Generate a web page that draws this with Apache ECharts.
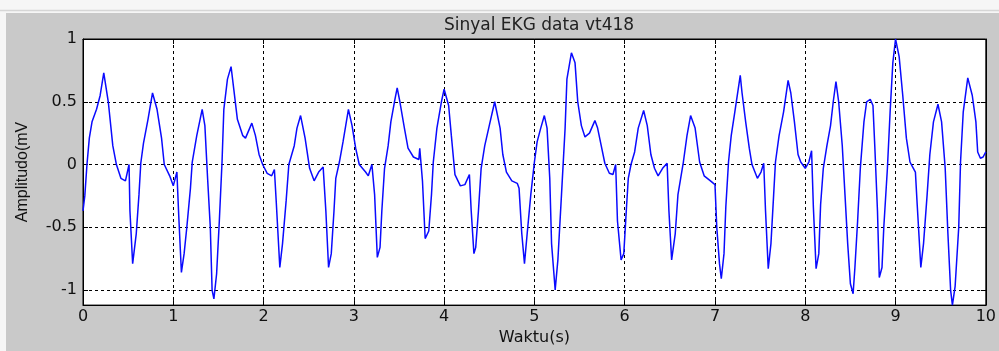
<!DOCTYPE html>
<html>
<head>
<meta charset="utf-8">
<title>Sinyal EKG data vt418</title>
<script src="https://cdn.jsdelivr.net/npm/echarts@6.0.0/dist/echarts.min.js"></script>
<style>
  html, body { margin: 0; padding: 0; background: #fff; }
  #chart { width: 999px; height: 351px; }
</style>
</head>
<body>
<div id="chart"></div>
<script>
// waktu (s)
var waktu = [
  0.00, 0.02, 0.044, 0.07, 0.10, 0.15, 0.19, 0.23, 0.28, 0.33, 0.37, 0.42, 0.47, 0.51, 0.52, 0.55, 0.59, 0.62, 0.64, 0.67,
  0.72, 0.77, 0.82, 0.87, 0.90, 0.96, 1.00, 1.04, 1.06, 1.09, 1.12, 1.15, 1.19, 1.21, 1.26, 1.32, 1.35, 1.38, 1.41, 1.43,
  1.45, 1.48, 1.51, 1.54, 1.56, 1.60, 1.64, 1.67, 1.71, 1.77, 1.80, 1.87, 1.91, 1.95, 1.99, 2.04, 2.09, 2.12, 2.14, 2.18,
  2.21, 2.25, 2.28, 2.34, 2.37, 2.41, 2.46, 2.51, 2.56, 2.61, 2.66, 2.69, 2.72, 2.75, 2.78, 2.80, 2.84, 2.88, 2.91, 2.94,
  2.98, 3.02, 3.06, 3.13, 3.16, 3.20, 3.23, 3.26, 3.29, 3.31, 3.34, 3.38, 3.41, 3.45, 3.48, 3.51, 3.56, 3.60, 3.66, 3.72,
  3.73, 3.76, 3.79, 3.83, 3.86, 3.88, 3.92, 3.97, 4.00, 4.05, 4.08, 4.12, 4.18, 4.23, 4.28, 4.30, 4.33, 4.35, 4.38, 4.41,
  4.45, 4.50, 4.56, 4.62, 4.65, 4.69, 4.75, 4.81, 4.83, 4.86, 4.89, 4.92, 4.96, 5.00, 5.03, 5.07, 5.11, 5.14, 5.17, 5.19,
  5.23, 5.26, 5.30, 5.34, 5.36, 5.41, 5.45, 5.48, 5.52, 5.56, 5.61, 5.67, 5.70, 5.74, 5.78, 5.83, 5.87, 5.90, 5.92, 5.96,
  5.99, 6.02, 6.04, 6.07, 6.11, 6.15, 6.21, 6.25, 6.29, 6.33, 6.37, 6.42, 6.47, 6.49, 6.52, 6.56, 6.59, 6.62, 6.65, 6.69,
  6.73, 6.78, 6.83, 6.88, 6.95, 7.00, 7.02, 7.05, 7.07, 7.10, 7.12, 7.15, 7.18, 7.22, 7.28, 7.30, 7.34, 7.38, 7.41, 7.47,
  7.51, 7.54, 7.56, 7.59, 7.62, 7.65, 7.67, 7.71, 7.76, 7.81, 7.84, 7.88, 7.92, 7.95, 8.00, 8.04, 8.07, 8.09, 8.12, 8.15,
  8.17, 8.20, 8.24, 8.28, 8.31, 8.34, 8.37, 8.41, 8.44, 8.47, 8.50, 8.53, 8.55, 8.58, 8.61, 8.65, 8.68, 8.72, 8.75, 8.77,
  8.80, 8.82, 8.85, 8.87, 8.91, 8.94, 8.97, 9.00, 9.04, 9.08, 9.12, 9.16, 9.19, 9.22, 9.24, 9.28, 9.31, 9.35, 9.38, 9.42,
  9.47, 9.51, 9.55, 9.58, 9.61, 9.63, 9.66, 9.70, 9.72, 9.75, 9.80, 9.85, 9.89, 9.91, 9.94, 9.97, 10.00
]
// amplitudo (mV)
var amplitudo = [
  -0.37, -0.25, 0.00, 0.21, 0.34, 0.44, 0.55, 0.73, 0.50, 0.15, 0.00, -0.11, -0.13, 0.00, -0.37, -0.79, -0.55, -0.24, 0.01, 0.17,
  0.36, 0.57, 0.44, 0.21, 0.00, -0.09, -0.17, -0.06, -0.40, -0.86, -0.71, -0.50, -0.19, 0.02, 0.23, 0.44, 0.31, -0.11, -0.50, -1.00,
  -1.07, -0.87, -0.45, 0.02, 0.44, 0.68, 0.78, 0.60, 0.36, 0.23, 0.21, 0.33, 0.23, 0.08, 0.00, -0.07, -0.09, -0.04, -0.29, -0.82,
  -0.63, -0.29, 0.00, 0.15, 0.29, 0.39, 0.21, -0.03, -0.13, -0.06, -0.02, -0.37, -0.82, -0.71, -0.37, -0.11, 0.02, 0.18, 0.31, 0.44,
  0.31, 0.13, 0.00, -0.06, -0.09, 0.00, -0.24, -0.74, -0.66, -0.37, -0.03, 0.15, 0.34, 0.50, 0.61, 0.50, 0.29, 0.13, 0.06, 0.04,
  0.13, -0.13, -0.59, -0.53, -0.24, 0.02, 0.29, 0.50, 0.60, 0.47, 0.23, -0.08, -0.17, -0.16, -0.08, -0.37, -0.71, -0.66, -0.37, -0.03,
  0.15, 0.31, 0.50, 0.29, 0.08, -0.06, -0.13, -0.15, -0.19, -0.55, -0.79, -0.55, -0.24, 0.02, 0.18, 0.29, 0.39, 0.29, -0.11, -0.63,
  -1.00, -0.76, -0.24, 0.29, 0.68, 0.89, 0.81, 0.50, 0.31, 0.22, 0.25, 0.35, 0.29, 0.15, 0.01, -0.07, -0.08, 0.00, -0.45, -0.76,
  -0.71, -0.34, -0.11, 0.00, 0.10, 0.29, 0.43, 0.31, 0.08, -0.03, -0.09, -0.03, 0.01, -0.37, -0.76, -0.55, -0.24, -0.11, 0.02, 0.23,
  0.39, 0.29, 0.02, -0.09, -0.13, -0.16, -0.50, -0.79, -0.91, -0.71, -0.34, 0.02, 0.23, 0.42, 0.71, 0.57, 0.34, 0.13, 0.00, -0.11,
  -0.06, 0.01, -0.37, -0.83, -0.63, -0.24, 0.02, 0.23, 0.42, 0.67, 0.57, 0.34, 0.08, 0.02, -0.03, 0.02, 0.11, -0.34, -0.83, -0.71,
  -0.32, -0.03, 0.15, 0.31, 0.50, 0.66, 0.50, 0.15, -0.24, -0.63, -0.95, -1.03, -0.82, -0.45, -0.03, 0.34, 0.50, 0.52, 0.47, 0.15,
  -0.37, -0.90, -0.82, -0.50, -0.03, 0.42, 0.81, 1.00, 0.86, 0.55, 0.21, 0.02, -0.02, -0.06, -0.32, -0.82, -0.63, -0.24, 0.08, 0.34,
  0.48, 0.34, -0.03, -0.55, -1.00, -1.12, -0.97, -0.50, 0.02, 0.42, 0.69, 0.55, 0.34, 0.10, 0.05, 0.06, 0.10
]
// label sumbu y
var yTicks = [-1, -0.5, 0, 0.5, 1]

var titleFont = 'DejaVu Sans'
var gridLine = { color: '#000', width: 1, type: [3, 3] }

var data = []
for (var i = 0; i < waktu.length; i++) {
  data.push([waktu[i], amplitudo[i]])
}

var myChart = echarts.init(document.getElementById('chart'), null, { renderer: 'canvas' })
var option = {
  backgroundColor: '#c9c9c9',
  animation: false,
  title: {
    text: 'Sinyal EKG data vt418',
    left: 534,
    top: 12,
    textAlign: 'center',
    textStyle: { fontFamily: titleFont, fontSize: 17, fontWeight: 'normal', color: '#222' }
  },
  graphic: [
    // strip putih di atas dan kiri
    { type: 'rect', shape: { x: 0, y: 0, width: 999, height: 13 }, style: { fill: '#f6f6f6' }, silent: true },
    { type: 'rect', shape: { x: 0, y: 0, width: 6, height: 351 }, style: { fill: '#f6f6f6' }, silent: true },
    { type: 'line', shape: { x1: 0, y1: 10.5, x2: 999, y2: 10.5 }, style: { stroke: '#d6d6d6', lineWidth: 1.5 }, silent: true },
    {
      type: 'text', x: 23, y: 172, rotation: Math.PI / 2,
      style: {
        text: 'Amplitudo(mV', fontFamily: 'Liberation Sans', fontSize: 16,
        fill: '#111', align: 'center', verticalAlign: 'middle'
      }
    }
  ],
  grid: {
    left: 83, top: 39, right: 10, bottom: 42,
    show: true, backgroundColor: '#fff', borderColor: '#000', borderWidth: 1
  },
  xAxis: [
    {
      type: 'value', min: 0, max: 10, interval: 1,
      name: 'Waktu(s)', nameLocation: 'middle', nameGap: 23,
      nameTextStyle: { fontFamily: titleFont, fontSize: 16, color: '#111' },
      axisLine: { onZero: false, lineStyle: { color: '#000', width: 1 } },
      axisTick: { inside: true, length: 5, lineStyle: { color: '#000' } },
      axisLabel: { margin: 4, fontFamily: titleFont, fontSize: 16, color: '#111' },
      splitLine: { show: true, lineStyle: gridLine }
    },
    {
      type: 'value', position: 'top', min: 0, max: 10, interval: 1,
      axisLine: { onZero: false, lineStyle: { color: '#000' } },
      axisTick: { inside: true, length: 5, lineStyle: { color: '#000' } },
      axisLabel: { show: false },
      splitLine: { show: false }
    }
  ],
  yAxis: [
    {
      type: 'value', min: -1.12, max: 1,
      axisLine: { show: true, onZero: false, lineStyle: { color: '#000', width: 1 } },
      axisTick: { show: true, inside: true, length: 5, customValues: yTicks, lineStyle: { color: '#000' } },
      axisLabel: { margin: 6, customValues: yTicks, fontFamily: titleFont, fontSize: 16, color: '#111' },
      splitLine: { show: true, lineStyle: gridLine }
    },
    {
      type: 'value', position: 'right', min: -1.12, max: 1,
      axisLine: { show: true, onZero: false, lineStyle: { color: '#000' } },
      axisTick: { show: true, inside: true, length: 5, customValues: yTicks, lineStyle: { color: '#000' } },
      axisLabel: { show: false },
      splitLine: { show: false }
    }
  ],
  series: [
    {
      name: 'EKG',
      type: 'line',
      data: data,
      showSymbol: false,
      clip: true,
      lineStyle: { color: '#0a0aff', width: 1.5 }
    }
  ]
}
myChart.setOption(option)
</script>
</body>
</html>
